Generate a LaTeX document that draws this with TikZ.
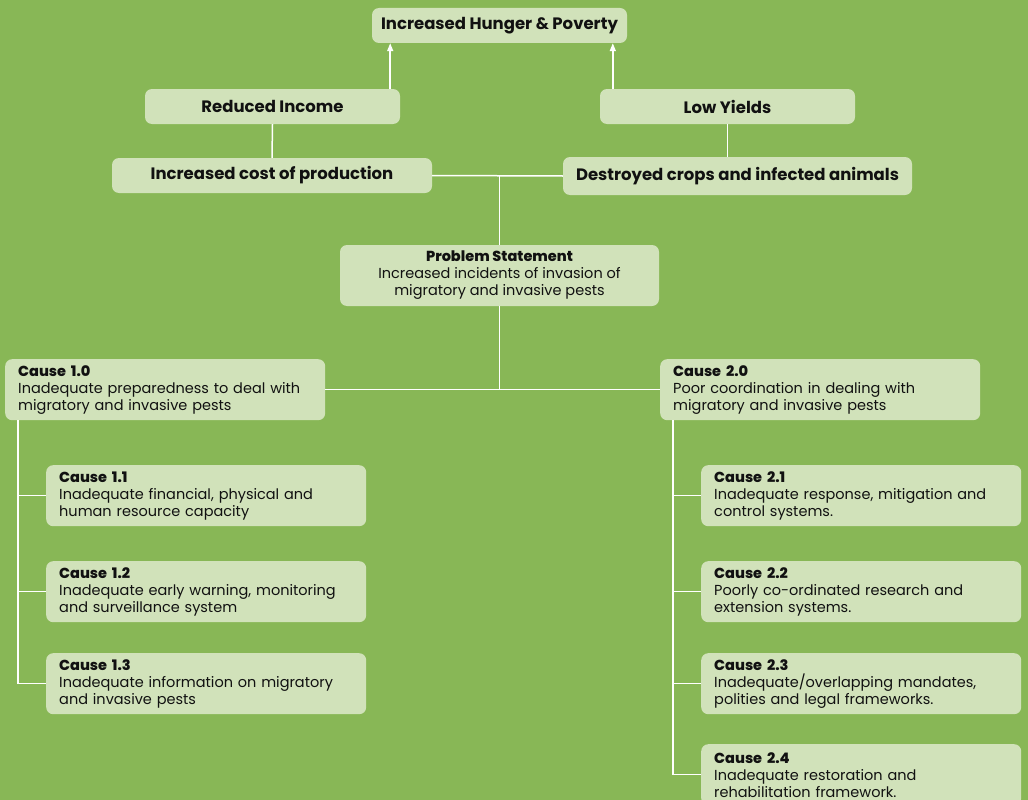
\documentclass[tikz,border=0pt]{standalone}
\usepackage{fontspec}
\setmainfont{Poppins}
\newfontfamily\heavyfont{Poppins ExtraBold}
\usetikzlibrary{arrows.meta,positioning,calc}
\definecolor{pestgreen}{RGB}{136,183,86}
\definecolor{pestbox}{RGB}{209,226,186}
\definecolor{pestink}{RGB}{17,17,17}

\tikzset{
  treebox/.style={draw=none, fill=pestbox, rounded corners=7pt, text=pestink, inner sep=0pt},
  effectbox/.style={treebox, font=\fontsize{16.5}{19}\selectfont\bfseries, minimum height=35pt, align=center},
  causebox/.style={treebox, font=\fontsize{14.5}{17}\selectfont, anchor=north west,
    minimum width=320pt, minimum height=61pt, text width=294pt, align=left},
  link/.style={draw=white, line width=1.5pt},
  uparrow/.style={link, -{Triangle[width=6pt,length=8pt]}}
}
\newcommand{\causehead}[1]{{\heavyfont #1}\\}

\begin{document}
\begin{tikzpicture}[x=1pt,y=-1pt]
	\fill[pestgreen] (0,0) rectangle (1028,800);
	\useasboundingbox (0,0) rectangle (1028,800);

	% effects
	\node[effectbox, minimum width=255pt] (hunger) at (499.5,25.5) {Increased Hunger \& Poverty};
	\node[effectbox, minimum width=255pt] (income) at (272.5,106.5) {Reduced Income};
	\node[effectbox, minimum width=255pt] (yields) at (727.5,106.5) {Low Yields};
	\node[effectbox, minimum width=320pt] (cost) at (272,175.5) {Increased cost of production};
	\node[effectbox, minimum width=349pt, minimum height=38pt] (crops) at (737.5,176) {Destroyed crops and infected animals};

	% problem
	\node[treebox, font=\fontsize{14.5}{17}\selectfont, minimum width=319pt, minimum height=61pt, align=center] (stmt) at (499.5,275.5)
		{{\heavyfont Problem Statement}\\Increased incidents of invasion of\\migratory and invasive pests};

	% causes
	\node[causebox] (c10) at (5,359) {\causehead{Cause 1.0}Inadequate preparedness to deal with\\migratory and invasive pests};
	\node[causebox] (c20) at (660,359) {\causehead{Cause 2.0}Poor coordination in dealing with\\migratory and invasive pests};

	\node[causebox] (c11) at (46,465) {\causehead{Cause 1.1}Inadequate financial, physical and\\human resource capacity};
	\node[causebox] (c12) at (46,561) {\causehead{Cause 1.2}Inadequate early warning, monitoring\\and surveillance system};
	\node[causebox] (c13) at (46,653) {\causehead{Cause 1.3}Inadequate information on migratory\\and invasive pests};

	\node[causebox] (c21) at (701,465) {\causehead{Cause 2.1}Inadequate response, mitigation and\\control systems.};
	\node[causebox] (c22) at (701,561) {\causehead{Cause 2.2}Poorly co-ordinated research and\\extension systems.};
	\node[causebox] (c23) at (701,653) {\causehead{Cause 2.3}Inadequate/overlapping mandates,\\polities and legal frameworks.};
	\node[causebox] (c24) at (701,744) {\causehead{Cause 2.4}Inadequate restoration and\\rehabilitation framework.};

	% connectors
	\draw[uparrow] ([xshift=-10pt]income.north east) -- ([xshift=-10pt]income.north east |- hunger.south);
	\draw[uparrow] ([xshift=13pt]yields.north west) -- ([xshift=13pt]yields.north west |- hunger.south);
	\draw[link] (income.south) -- (cost.north);
	\draw[link] (yields.south) -- (yields.south |- crops.north);
	\draw[link] (cost.east) -- (crops.west);
	\draw[link] (stmt.north) -- (stmt.north |- cost.east);
	\draw[link] (stmt.south) -- (stmt.south |- c10.east);
	\draw[link] (c10.east) -- (c20.west);

	\coordinate (spine1) at ([xshift=13pt]c10.south west);
	\coordinate (spine2) at ([xshift=13pt]c20.south west);
	\draw[link] (spine1) |- (c13.west);
	\foreach \n in {c11,c12} \draw[link] (spine1 |- \n.west) -- (\n.west);
	\draw[link] (spine2) |- (c24.west);
	\foreach \n in {c21,c22,c23} \draw[link] (spine2 |- \n.west) -- (\n.west);
\end{tikzpicture}
\end{document}
